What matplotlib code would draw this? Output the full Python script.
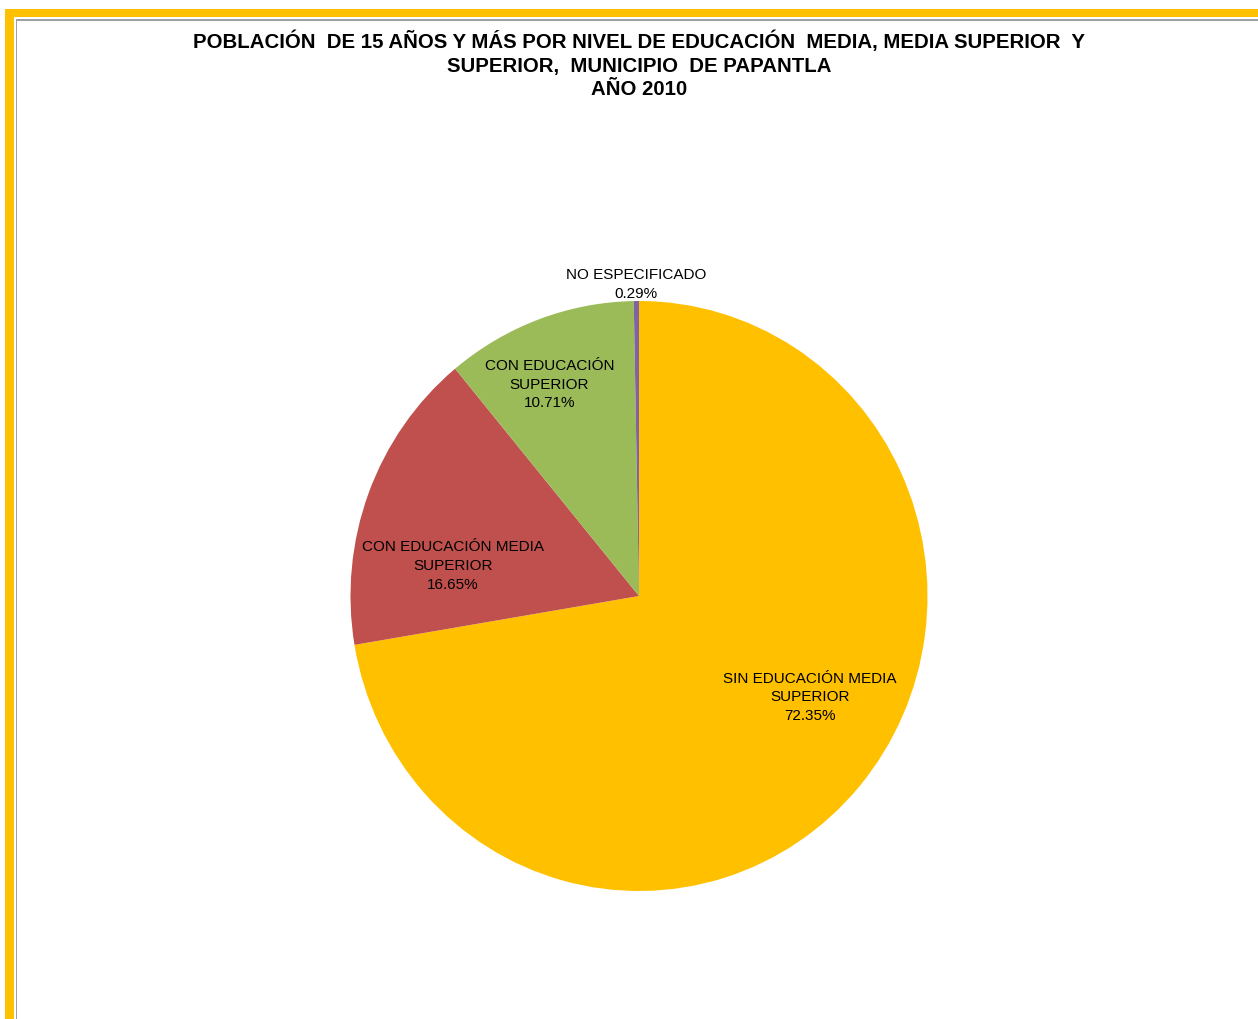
import matplotlib
matplotlib.use("Agg")
import matplotlib.pyplot as plt
from matplotlib.patches import Rectangle

categories = ["SIN EDUCACIÓN MEDIA\nSUPERIOR", "CON EDUCACIÓN MEDIA\nSUPERIOR",
              "CON EDUCACIÓN\nSUPERIOR", "NO ESPECIFICADO"]
values = [72.35, 16.65, 10.71, 0.29]
pct_labels = ["72.35%", "16.65%", "10.71%", "0.29%"]
colors = ["#FFC000", "#C0504D", "#9BBB59", "#8064A2"]
title_text = ("POBLACIÓN  DE 15 AÑOS Y MÁS POR NIVEL DE EDUCACIÓN  MEDIA, MEDIA SUPERIOR  Y\n"
              "SUPERIOR,  MUNICIPIO  DE PAPANTLA\nAÑO 2010")

plt.rcParams['font.family'] = ['Liberation Sans', 'DejaVu Sans']

W, H = 1258, 1020
fig = plt.figure(figsize=(W / 100, H / 100), dpi=100)
fig.patch.set_facecolor("white")

def px_rect(x0, y0, x1, y1, color):
    fig.patches.append(Rectangle((x0 / W, 1 - y1 / H), (x1 - x0) / W, (y1 - y0) / H,
                                 transform=fig.transFigure, facecolor=color,
                                 edgecolor="none", zorder=0))

# frame decoration
px_rect(5, 10, 13.5, H, "#FFC000")
px_rect(5, 10, W, 17.5, "#FFC000")
px_rect(15.5, 20, 17, H, "#A0A0A0")
px_rect(15.5, 20, W, 21.5, "#A0A0A0")

cx, cy, rx, ry = 639, 597, 288.5, 295
ax = fig.add_axes([(cx - rx) / W, 1 - (cy + ry) / H, 2 * rx / W, 2 * ry / H])
wedges, _ = ax.pie(values, colors=colors, startangle=90, counterclock=False,
                   radius=1, wedgeprops=dict(linewidth=0))
ax.set_aspect("auto")
ax.set_xlim(-1, 1)
ax.set_ylim(-1, 1)
ax.axis("off")

label_pos = [(0.593, -0.34), (-0.645, 0.105), (-0.31, 0.72), (-0.01, 1.06)]
for cat, p, (lx, ly) in zip(categories, pct_labels, label_pos):
    ax.text(lx, ly, cat + "\n" + p, ha="center", va="center", fontsize=11,
            linespacing=1.42, clip_on=False, color="#000000")

fig.text(0.5078, 1 - 65 / H, title_text, ha="center", va="center", fontsize=14.7,
         fontweight="bold", linespacing=1.31)

fig.savefig("out.png", dpi=100, facecolor="white")
